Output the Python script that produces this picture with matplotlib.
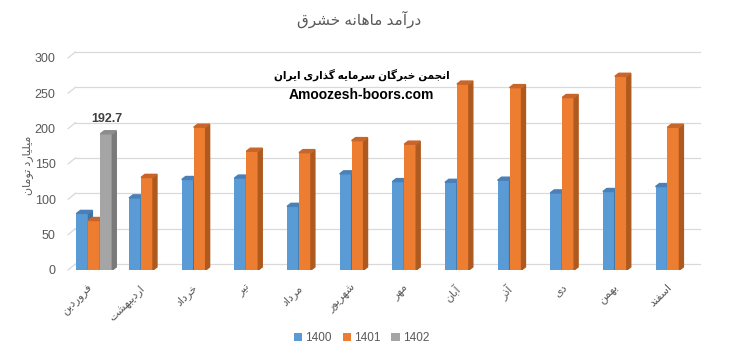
import numpy as np
import matplotlib
matplotlib.use('Agg')
import matplotlib.pyplot as plt
from matplotlib.patches import Polygon

plt.rcParams['font.family'] = ['Liberation Sans', 'DejaVu Sans']

# data (billion toman)
months = ['فروردین', 'اردیبهشت', 'خرداد', 'تیر', 'مرداد', 'شهریور',
          'مهر', 'آبان', 'آذر', 'دی', 'بهمن', 'اسفند']
sales_1400 = [80, 102, 128, 130, 90, 136, 125, 124, 127, 109, 111, 118]
sales_1401 = [70, 131, 202, 168, 166, 183, 178, 263, 258, 244, 274, 202]
sales_1402 = [192.7]
series_names = ['1400', '1401', '1402']
colors = ['#5B9BD5', '#ED7D31', '#A5A5A5']
side_colors = ['#3F74A6', '#AE5A1F', '#7A7A7A']
top_colors = ['#4A80B8', '#C8652A', '#8C8C8C']

title = 'درآمد ماهانه خشرق'
ylabel = 'میلیارد تومان'
watermark1 = 'انجمن خبرگان سرمایه گذاری ایران'
watermark2 = 'Amoozesh-boors.com'

# --- tiny persian shaper (matplotlib has no RTL shaping) ---
FORMS = {
    'ا': ('\uFE8D', '\uFE8E', None, None), 'آ': ('\uFE81', '\uFE82', None, None),
    'ب': ('\uFE8F', '\uFE90', '\uFE91', '\uFE92'), 'پ': ('\uFB56', '\uFB57', '\uFB58', '\uFB59'),
    'ت': ('\uFE95', '\uFE96', '\uFE97', '\uFE98'), 'ث': ('\uFE99', '\uFE9A', '\uFE9B', '\uFE9C'),
    'ج': ('\uFE9D', '\uFE9E', '\uFE9F', '\uFEA0'), 'چ': ('\uFB7A', '\uFB7B', '\uFB7C', '\uFB7D'),
    'ح': ('\uFEA1', '\uFEA2', '\uFEA3', '\uFEA4'), 'خ': ('\uFEA5', '\uFEA6', '\uFEA7', '\uFEA8'),
    'د': ('\uFEA9', '\uFEAA', None, None), 'ذ': ('\uFEAB', '\uFEAC', None, None),
    'ر': ('\uFEAD', '\uFEAE', None, None), 'ز': ('\uFEAF', '\uFEB0', None, None),
    'ژ': ('\uFB8A', '\uFB8B', None, None),
    'س': ('\uFEB1', '\uFEB2', '\uFEB3', '\uFEB4'), 'ش': ('\uFEB5', '\uFEB6', '\uFEB7', '\uFEB8'),
    'ص': ('\uFEB9', '\uFEBA', '\uFEBB', '\uFEBC'), 'ض': ('\uFEBD', '\uFEBE', '\uFEBF', '\uFEC0'),
    'ط': ('\uFEC1', '\uFEC2', '\uFEC3', '\uFEC4'), 'ظ': ('\uFEC5', '\uFEC6', '\uFEC7', '\uFEC8'),
    'ع': ('\uFEC9', '\uFECA', '\uFECB', '\uFECC'), 'غ': ('\uFECD', '\uFECE', '\uFECF', '\uFED0'),
    'ف': ('\uFED1', '\uFED2', '\uFED3', '\uFED4'), 'ق': ('\uFED5', '\uFED6', '\uFED7', '\uFED8'),
    'ک': ('\uFB8E', '\uFB8F', '\uFB90', '\uFB91'), 'گ': ('\uFB92', '\uFB93', '\uFB94', '\uFB95'),
    'ل': ('\uFEDD', '\uFEDE', '\uFEDF', '\uFEE0'), 'م': ('\uFEE1', '\uFEE2', '\uFEE3', '\uFEE4'),
    'ن': ('\uFEE5', '\uFEE6', '\uFEE7', '\uFEE8'), 'و': ('\uFEED', '\uFEEE', None, None),
    'ه': ('\uFEE9', '\uFEEA', '\uFEEB', '\uFEEC'), 'ی': ('\uFBFC', '\uFBFD', '\uFBFE', '\uFBFF'),
    'ي': ('\uFEF1', '\uFEF2', '\uFEF3', '\uFEF4'),
}


def fa(text):
    out = []
    for i, ch in enumerate(text):
        if ch not in FORMS:
            out.append(ch)
            continue
        prev = text[i - 1] if i > 0 else ''
        nxt = text[i + 1] if i + 1 < len(text) else ''
        join_prev = prev in FORMS and FORMS[prev][2] is not None
        join_next = nxt in FORMS and FORMS[ch][2] is not None
        f = FORMS[ch]
        if join_prev and join_next:
            out.append(f[3])
        elif join_prev:
            out.append(f[1])
        elif join_next:
            out.append(f[2])
        else:
            out.append(f[0])
    return ''.join(reversed(out))


fig = plt.figure(figsize=(7.32, 3.56), dpi=100)
ax = fig.add_axes([0.093, 0.2416, 0.863, 0.6155])

x = np.arange(len(months))
w = 0.227
ddx = 0.075   # depth in x units
ddy = 4.3     # depth in y units
text_gray = '#595959'

# back-wall gridlines
ticks = np.arange(0, 301, 50)
gdx, gdy = 0.14, 8.5
for t in ticks:
    ax.plot([-0.5, -0.5 + gdx], [t, t + gdy], color='#D9D9D9', lw=0.9, clip_on=False, zorder=0)
    ax.plot([-0.5 + gdx, 11.5], [t + gdy, t + gdy], color='#D9D9D9', lw=0.9, clip_on=False, zorder=0)

all_series = [sales_1400, sales_1401, sales_1402]
for s, vals in enumerate(all_series):
    xs = x[:len(vals)] + (s - 1) * w
    ax.bar(xs, vals, width=w, color=colors[s], label=series_names[s], zorder=2)
    for xc, h in zip(xs, vals):
        x0, x1 = xc - w / 2, xc + w / 2
        ax.add_patch(Polygon([(x1, 0), (x1, h), (x1 + ddx, h + ddy), (x1 + ddx, ddy)],
                             closed=True, color=side_colors[s], zorder=2))
        ax.add_patch(Polygon([(x0, h), (x1, h), (x1 + ddx, h + ddy), (x0 + ddx, h + ddy)],
                             closed=True, color=top_colors[s], zorder=2))

ax.text(x[0] + w, sales_1402[0] + 12, '192.7', ha='center', va='bottom',
        fontsize=9, fontweight='bold', color='#404040')

ax.set_xlim(-0.5, 11.5)
ax.set_ylim(0, 310)
ax.set_yticks(ticks)
ax.set_yticklabels([str(t) for t in ticks])
ax.set_xticks(x)
ax.set_xticklabels([fa(m) for m in months], rotation=45, ha='right', va='top',
                   fontsize=8, color=text_gray)
ax.tick_params(axis='y', length=0, pad=9, labelsize=9, labelcolor=text_gray)
ax.tick_params(axis='x', length=0, pad=9)
for sp in ax.spines.values():
    sp.set_visible(False)

fig.text(0.038, 0.535, fa(ylabel), rotation=90, ha='center', va='center',
         fontsize=8, color=text_gray)
fig.text(0.49, 0.945, fa(title), ha='center', va='center', fontsize=11, color=text_gray)
fig.text(0.494, 0.79, fa(watermark1), ha='center', va='center', fontsize=7.6,
         fontweight='bold', color='black')
fig.text(0.494, 0.733, watermark2, ha='center', va='center', fontsize=10,
         fontweight='bold', color='black')

fig.legend(loc='center', bbox_to_anchor=(0.494, 0.05), ncol=3, frameon=False,
           fontsize=8.5, handlelength=0.7, handleheight=0.7, handletextpad=0.3,
           columnspacing=0.9, labelcolor=text_gray)

fig.savefig('out.png', dpi=100)
